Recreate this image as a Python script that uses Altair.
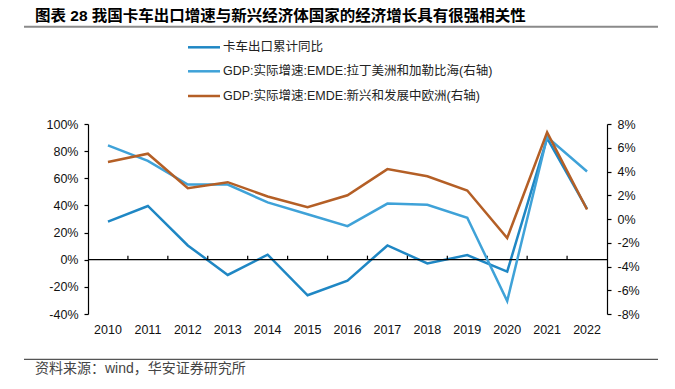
import altair as alt
import pandas as pd

years = ["2010", "2011", "2012", "2013", "2014", "2015", "2016",
         "2017", "2018", "2019", "2020", "2021", "2022"]
truck_export = [28.1, 39.6, 10.5, -11.2, 3.7, -26.2, -15.4, 10.5, -2.7, 3.4, -8.8, 89.5, 37.4]
gdp_latam = [6.2, 4.9, 2.9, 2.9, 1.4, 0.4, -0.6, 1.3, 1.2, 0.1, -6.9, 6.9, 4.0]
gdp_europe = [4.8, 5.5, 2.6, 3.1, 1.9, 1.0, 2.0, 4.2, 3.6, 2.4, -1.6, 7.3, 0.8]

s_truck = "卡车出口累计同比"
s_latam = "GDP:实际增速:EMDE:拉丁美洲和加勒比海(右轴)"
s_europe = "GDP:实际增速:EMDE:新兴和发展中欧洲(右轴)"
series_names = [s_truck, s_latam, s_europe]
series_colors = ["#1f87c4", "#3fa2d8", "#b45f26"]

title_text = "图表 28 我国卡车出口增速与新兴经济体国家的经济增长具有很强相关性"
source_text = "资料来源：wind，华安证券研究所"

FONT = "Liberation Sans, Arial, Noto Sans CJK SC"
CJK = "Liberation Sans, Noto Sans CJK SC"

W, H = 519, 190

left_df = pd.DataFrame({"year": years, "value": truck_export, "series": s_truck})
right_df = pd.concat([
    pd.DataFrame({"year": years, "value": gdp_latam, "series": s_latam}),
    pd.DataFrame({"year": years, "value": gdp_europe, "series": s_europe}),
])
one = pd.DataFrame({"a": [0]})

xscale = alt.Scale(type="band", domain=years, paddingInner=0, paddingOuter=0)
color = alt.Color("series:N", scale=alt.Scale(domain=series_names, range=series_colors), legend=None)
yleft_scale = alt.Scale(domain=[-40, 100], nice=False, zero=False)
yright_scale = alt.Scale(domain=[-8, 8], nice=False, zero=False)

x_axis = alt.Axis(orient="bottom", labelAngle=0, domain=False, ticks=False, title=None,
                  labelPadding=9, labelFontSize=12.5, labelFont=FONT, labelColor="#111", grid=False)
yleft_axis = alt.Axis(values=list(range(-40, 101, 20)), labelExpr="datum.value + '%'",
                      title=None, grid=False, domainColor="#000", tickColor="#000",
                      tickSize=4, labelPadding=6, labelFontSize=12.5, labelFont=FONT,
                      labelColor="#111", domainWidth=1.2, tickWidth=1.2)
yright_axis = alt.Axis(orient="right", values=list(range(-8, 9, 2)), labelExpr="datum.value + '%'",
                       title=None, grid=False, domainColor="#000", tickColor="#000",
                       tickSize=4, labelPadding=6, labelFontSize=12.5, labelFont=FONT,
                       labelColor="#111", domainWidth=1.2, tickWidth=1.2)

truck_line = alt.Chart(left_df).mark_line(strokeWidth=2.5).encode(
    x=alt.X("year:O", scale=xscale, axis=x_axis, bandPosition=0.5, sort=years),
    y=alt.Y("value:Q", scale=yleft_scale, axis=yleft_axis),
    color=color,
)

zero_rule = alt.Chart(one).mark_rule(color="#000", strokeWidth=1.2).encode(
    y=alt.Y(datum=0, scale=yleft_scale, axis=yleft_axis)
)

tick_df = pd.DataFrame({"year": years[1:]})
zero_ticks = alt.Chart(tick_df).mark_rule(color="#000", strokeWidth=1.2).encode(
    x=alt.X("year:O", scale=xscale, bandPosition=0, axis=x_axis, sort=years),
    y=alt.Y(datum=0, scale=yleft_scale, axis=yleft_axis),
    y2=alt.Y2(datum=3),
)

left = alt.layer(truck_line, zero_rule, zero_ticks)

right = alt.Chart(right_df).mark_line(strokeWidth=2.5).encode(
    x=alt.X("year:O", scale=xscale, axis=x_axis, bandPosition=0.5, sort=years),
    y=alt.Y("value:Q", scale=yright_scale, axis=yright_axis),
    color=color,
    detail="series:N",
)

# decorations: title, rules, legend, source
deco = []
deco.append(alt.Chart(one).mark_text(text=title_text, align="left", baseline="middle",
                                     fontSize=15.5, fontWeight="bold", font=CJK, color="#000")
            .encode(x=alt.value(-53), y=alt.value(-108.5)))
deco.append(alt.Chart(one).mark_rule(color="#8a8a8a", strokeWidth=2)
            .encode(x=alt.value(-64), x2=alt.value(570), y=alt.value(-97.3)))
deco.append(alt.Chart(one).mark_rule(color="#555", strokeWidth=1.2)
            .encode(x=alt.value(-64), x2=alt.value(570), y=alt.value(235.3)))
deco.append(alt.Chart(one).mark_text(text=source_text, align="left", baseline="middle",
                                     fontSize=14, font=CJK, color="#444")
            .encode(x=alt.value(-53), y=alt.value(245)))

legend_rows = [-76.7, -52.7, -28]
for name, col, yy in zip(series_names, series_colors, legend_rows):
    deco.append(alt.Chart(one).mark_rule(color=col, strokeWidth=2.5)
                .encode(x=alt.value(100), x2=alt.value(132), y=alt.value(yy)))
    deco.append(alt.Chart(one).mark_text(text=name, align="left", baseline="middle",
                                         fontSize=12.5, font=CJK, color="#222")
                .encode(x=alt.value(135), y=alt.value(yy)))

chart = alt.layer(left, right, *deco).resolve_scale(y="independent").properties(
    width=W, height=H,
    autosize=alt.AutoSizeParams(type="none"),
    padding={"left": 80, "top": 116, "right": 60, "bottom": 67},
    background="white",
).configure_view(stroke=None)

chart.save("out.html", embed_options={"renderer": "svg", "actions": False})
